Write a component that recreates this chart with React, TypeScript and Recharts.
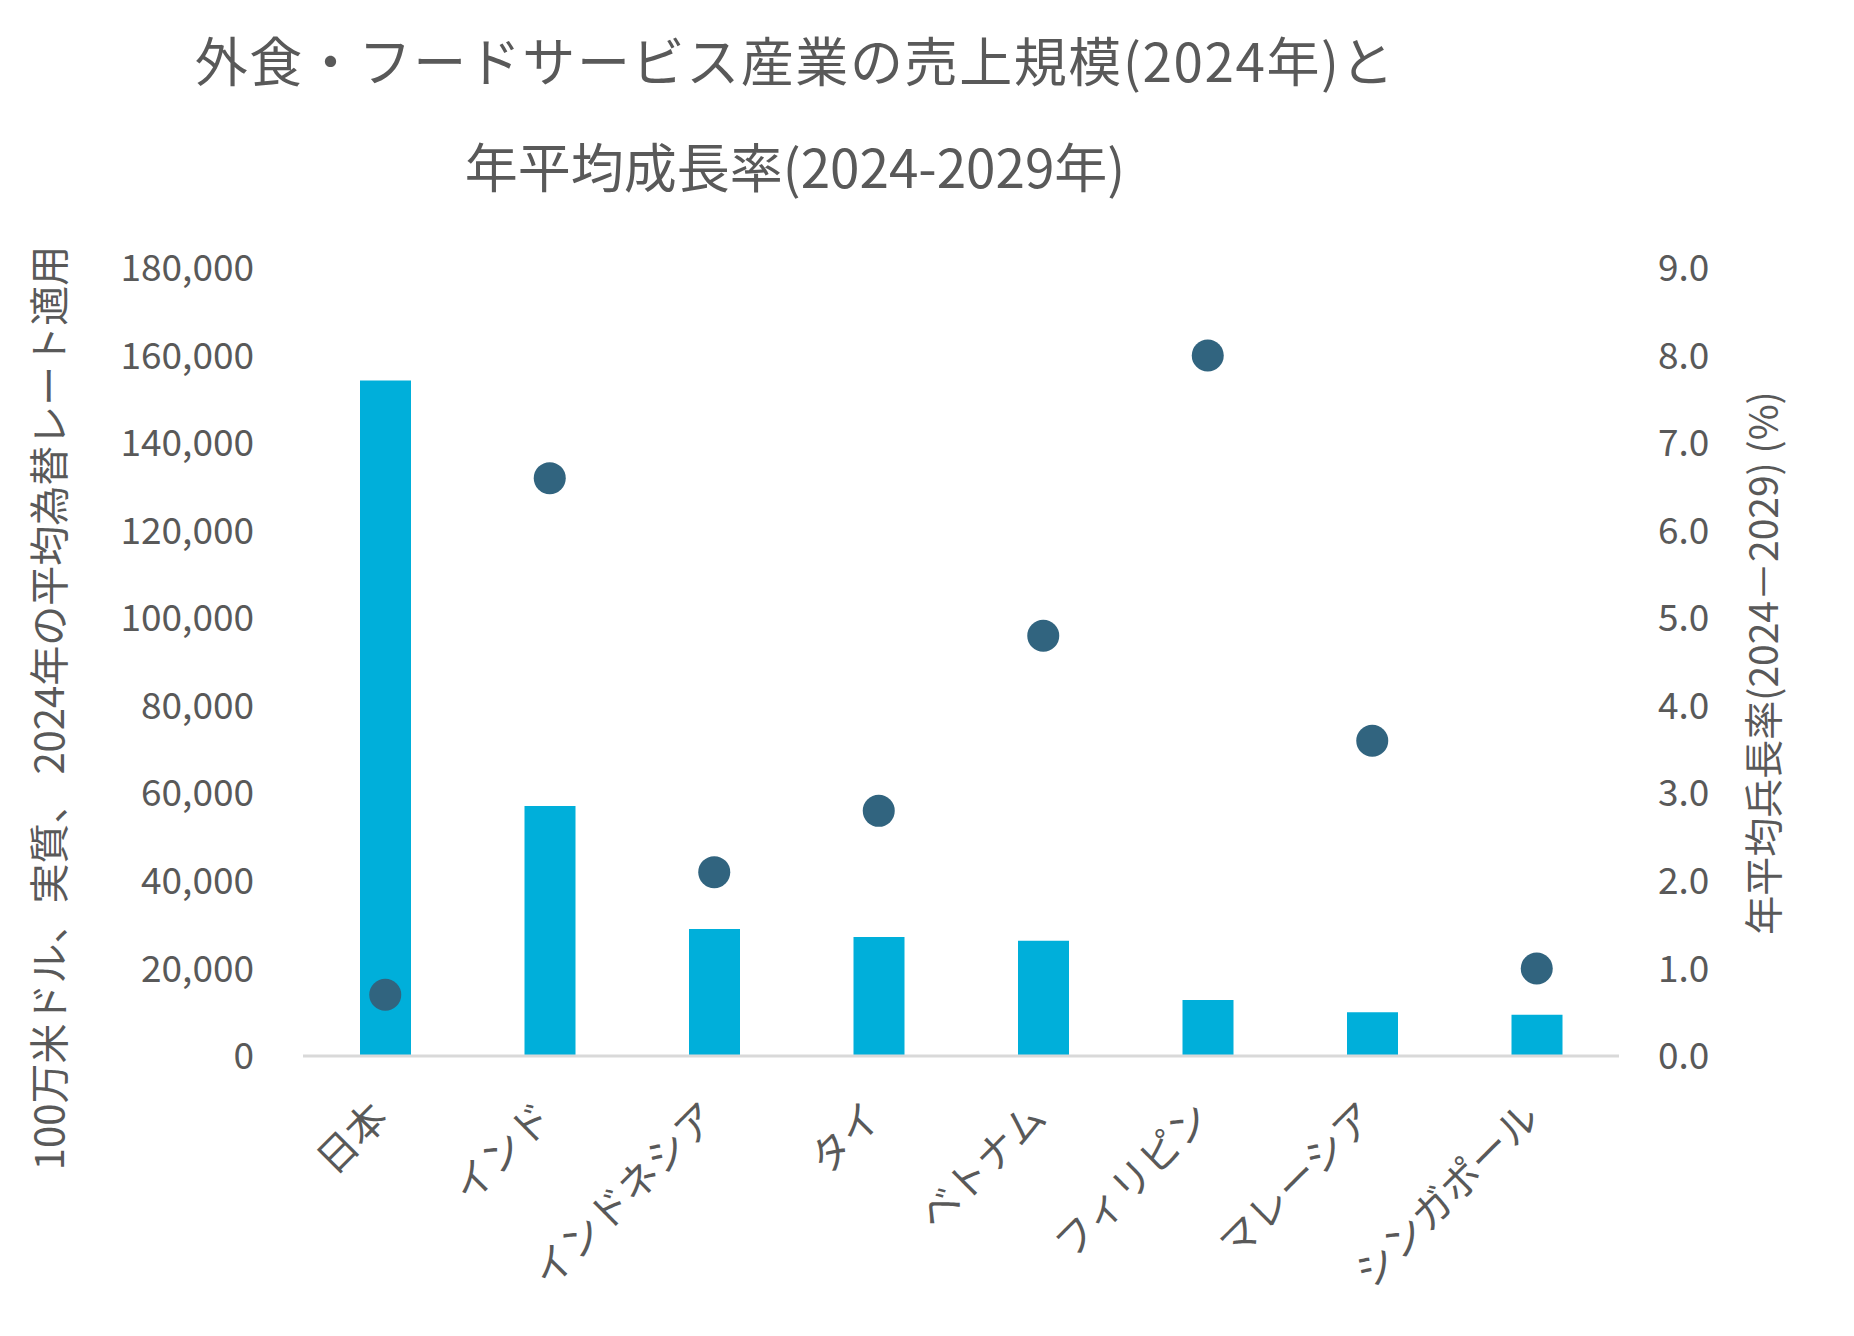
import { Bar, ComposedChart, Scatter, XAxis, YAxis } from "recharts";

const countries = ["日本", "インド", "インドネシア", "タイ", "ベトナム", "フィリピン", "マレーシア", "シンガポール"];
const sales = [154300, 57100, 29000, 27200, 26300, 12800, 10000, 9400];
const growth = [0.7, 6.6, 2.1, 2.8, 4.8, 8.0, 3.6, 1.0];
const salesTicks = [0, 20000, 40000, 60000, 80000, 100000, 120000, 140000, 160000, 180000];
const growthTicks = [0, 1, 2, 3, 4, 5, 6, 7, 8, 9];

const titleLines = ["外食・フードサービス産業の売上規模(2024年)と", "年平均成長率(2024-2029年)"];
const leftTitle = "100万米ドル、実質、 2024年の平均為替レート適用";
const rightTitle = "年平均兵長率(2024－2029) (%)";

const data = countries.map((name, i) => ({ name, sales: sales[i], growth: growth[i] }));

const FONT = "'Noto Sans CJK JP', 'Noto Sans', sans-serif";
const TEXT = "#595959";
const BAR = "#00AFDA";
const DOT = "#31647F";

const CategoryTick = ({ x, y, payload }: any) => (
  <g transform={`translate(${x + 5},${y + 64})`}>
    <text transform="rotate(-45)" textAnchor="end" fill={TEXT} fontSize={40}>
      {payload.value}
    </text>
  </g>
);

const Dot = (p: any) => <circle cx={p.cx} cy={p.cy} r={16} fill={DOT} />;

export default function App() {
  return (
    <div style={{ position: "absolute", left: 0, top: 0, width: 1854, height: 1336, background: "#fff", fontFamily: FONT }}>
      <ComposedChart width={1854} height={1336} data={data} margin={{ top: 268, right: 0, bottom: 0, left: 0 }}>
        <XAxis
          dataKey="name"
          height={280}
          interval={0}
          tickLine={false}
          tickSize={0}
          tickMargin={0}
          axisLine={{ stroke: "#D9D9D9", strokeWidth: 3 }}
          tick={<CategoryTick />}
        />
        <YAxis
          yAxisId="left"
          width={303}
          domain={[0, 180000]}
          ticks={salesTicks}
          axisLine={false}
          tickLine={false}
          tickSize={0}
          tickMargin={49}
          tick={{ fill: TEXT, fontSize: 37 }}
          tickFormatter={(v: number) => v.toLocaleString("en-US")}
        />
        <YAxis
          yAxisId="right"
          orientation="right"
          width={235}
          domain={[0, 9]}
          ticks={growthTicks}
          axisLine={false}
          tickLine={false}
          tickSize={0}
          tickMargin={39}
          tick={{ fill: TEXT, fontSize: 37, textAnchor: "start" }}
          tickFormatter={(v: number) => v.toFixed(1)}
        />
        <Bar yAxisId="left" dataKey="sales" fill={BAR} barSize={51} isAnimationActive={false} />
        <Scatter yAxisId="right" dataKey="growth" fill={DOT} shape={Dot} isAnimationActive={false} />
      </ComposedChart>
      <svg width={1854} height={1336} style={{ position: "absolute", left: 0, top: 0, pointerEvents: "none" }}>
        <g fill={TEXT} fontSize={53} textAnchor="middle" dominantBaseline="central">
          <text x={795} y={59} letterSpacing={1.6}>{titleLines[0]}</text>
          <text x={795} y={165}>{titleLines[1]}</text>
        </g>
        <g fill={TEXT} fontSize={40} textAnchor="middle" dominantBaseline="central">
          <text x={47} y={708} transform="rotate(-90 47 708)">{leftTitle}</text>
          <text x={1761} y={663} fontSize={39} transform="rotate(-90 1761 663)">{rightTitle}</text>
        </g>
      </svg>
    </div>
  );
}
